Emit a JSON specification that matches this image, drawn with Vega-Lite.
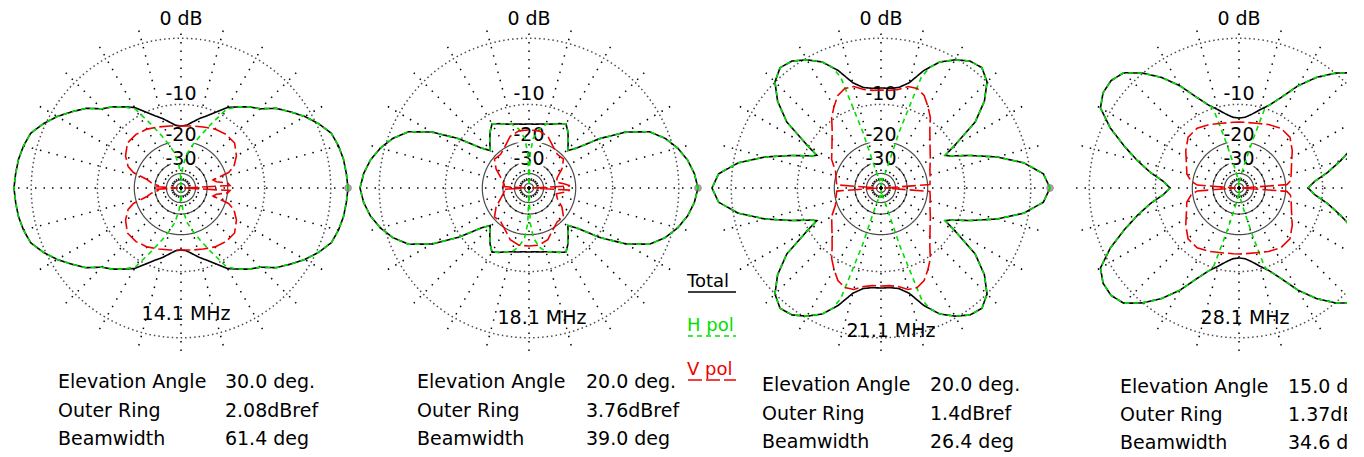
{
"$schema":"https://vega.github.io/schema/vega-lite/v6.json",
"width":1347,"height":457,"padding":0,
"autosize":{"type":"pad"},
"background":"white",
"config":{"view":{"stroke":null},"text":{"font":"DejaVu Sans","fontSize":19,"color":"black"}},
"datasets":{
"spokes":[{"deg":0},{"deg":15},{"deg":30},{"deg":45},{"deg":60},{"deg":75},{"deg":90},{"deg":105},{"deg":120},{"deg":135},{"deg":150},{"deg":165},{"deg":180},{"deg":195},{"deg":210},{"deg":225},{"deg":240},{"deg":255},{"deg":270},{"deg":285},{"deg":300},{"deg":315},{"deg":330},{"deg":345}],
"rings":[{"dB":0,"line":"dotted"},{"dB":-10,"line":"dotted"},{"dB":-20,"line":"solid"},{"dB":-30,"line":"solid"},{"dB":-40,"line":"solid"},{"dB":-50,"line":"solid"},{"dB":-60,"line":"solid"}],
"ringlabels":[{"label":"0 dB","dB":0},{"label":"-10","dB":-10},{"label":"-20","dB":-20},{"label":"-30","dB":-30}],
"s1":[{"freq":"14.1 MHz","lab":["Elevation Angle","Outer Ring","Beamwidth"],"val":["30.0 deg.","2.08dBref","61.4 deg"]}],
"s2":[{"freq":"18.1 MHz","lab":["Elevation Angle","Outer Ring","Beamwidth"],"val":["20.0 deg.","3.76dBref","39.0 deg"]}],
"s3":[{"freq":"21.1 MHz","lab":["Elevation Angle","Outer Ring","Beamwidth"],"val":["20.0 deg.","1.4dBref","26.4 deg"]}],
"s4":[{"freq":"28.1 MHz","lab":["Elevation Angle","Outer Ring","Beamwidth"],"val":["15.0 deg.","1.37dBref","34.6 deg"]}],
"p1":[
{"pol":"Total","az":0,"dB":-0.2},{"pol":"Total","az":5,"dB":-0.31},{"pol":"Total","az":10,"dB":-0.41},{"pol":"Total","az":15,"dB":-0.62},{"pol":"Total","az":20,"dB":-0.94},{"pol":"Total","az":25,"dB":-1.82},{"pol":"Total","az":30,"dB":-2.87},{"pol":"Total","az":35,"dB":-4.11},{"pol":"Total","az":40,"dB":-5.32},{"pol":"Total","az":45,"dB":-7.06},{"pol":"Total","az":50,"dB":-8.01},{"pol":"Total","az":55,"dB":-9.18},{"pol":"Total","az":60,"dB":-10.25},{"pol":"Total","az":65,"dB":-12},{"pol":"Total","az":70,"dB":-13.49},{"pol":"Total","az":75,"dB":-14.64},{"pol":"Total","az":80,"dB":-15.88},{"pol":"Total","az":85,"dB":-16.93},{"pol":"Total","az":90,"dB":-17.21},
{"pol":"Total","az":95,"dB":-16.93},{"pol":"Total","az":100,"dB":-15.88},{"pol":"Total","az":105,"dB":-14.64},{"pol":"Total","az":110,"dB":-13.49},{"pol":"Total","az":115,"dB":-12},{"pol":"Total","az":120,"dB":-10.25},{"pol":"Total","az":125,"dB":-9.18},{"pol":"Total","az":130,"dB":-8.01},{"pol":"Total","az":135,"dB":-7.06},{"pol":"Total","az":140,"dB":-5.32},{"pol":"Total","az":145,"dB":-4.11},{"pol":"Total","az":150,"dB":-2.87},{"pol":"Total","az":155,"dB":-1.82},{"pol":"Total","az":160,"dB":-0.94},{"pol":"Total","az":165,"dB":-0.62},{"pol":"Total","az":170,"dB":-0.41},{"pol":"Total","az":175,"dB":-0.31},{"pol":"Total","az":180,"dB":-0.2},
{"pol":"Total","az":185,"dB":-0.31},{"pol":"Total","az":190,"dB":-0.41},{"pol":"Total","az":195,"dB":-0.62},{"pol":"Total","az":200,"dB":-0.94},{"pol":"Total","az":205,"dB":-1.82},{"pol":"Total","az":210,"dB":-2.87},{"pol":"Total","az":215,"dB":-4.11},{"pol":"Total","az":220,"dB":-5.32},{"pol":"Total","az":225,"dB":-7.06},{"pol":"Total","az":230,"dB":-8.01},{"pol":"Total","az":235,"dB":-9.18},{"pol":"Total","az":240,"dB":-10.25},{"pol":"Total","az":245,"dB":-12},{"pol":"Total","az":250,"dB":-13.49},{"pol":"Total","az":255,"dB":-14.64},{"pol":"Total","az":260,"dB":-15.88},{"pol":"Total","az":265,"dB":-16.93},{"pol":"Total","az":270,"dB":-17.21},
{"pol":"Total","az":275,"dB":-16.93},{"pol":"Total","az":280,"dB":-15.88},{"pol":"Total","az":285,"dB":-14.64},{"pol":"Total","az":290,"dB":-13.49},{"pol":"Total","az":295,"dB":-12},{"pol":"Total","az":300,"dB":-10.25},{"pol":"Total","az":305,"dB":-9.18},{"pol":"Total","az":310,"dB":-8.01},{"pol":"Total","az":315,"dB":-7.06},{"pol":"Total","az":320,"dB":-5.32},{"pol":"Total","az":325,"dB":-4.11},{"pol":"Total","az":330,"dB":-2.87},{"pol":"Total","az":335,"dB":-1.82},{"pol":"Total","az":340,"dB":-0.94},{"pol":"Total","az":345,"dB":-0.62},{"pol":"Total","az":350,"dB":-0.41},{"pol":"Total","az":355,"dB":-0.31},{"pol":"Total","az":360,"dB":-0.2},
{"pol":"H pol","az":0,"dB":-0.2},{"pol":"H pol","az":5,"dB":-0.31},{"pol":"H pol","az":10,"dB":-0.41},{"pol":"H pol","az":15,"dB":-0.62},{"pol":"H pol","az":20,"dB":-0.94},{"pol":"H pol","az":25,"dB":-1.82},{"pol":"H pol","az":30,"dB":-2.87},{"pol":"H pol","az":35,"dB":-4.11},{"pol":"H pol","az":40,"dB":-5.32},{"pol":"H pol","az":45,"dB":-7.06},{"pol":"H pol","az":50,"dB":-8.01},{"pol":"H pol","az":55,"dB":-9.18},{"pol":"H pol","az":60,"dB":-10.63},{"pol":"H pol","az":65,"dB":-15.13},{"pol":"H pol","az":70,"dB":-19.26},{"pol":"H pol","az":75,"dB":-23.09},{"pol":"H pol","az":80,"dB":-27.02},{"pol":"H pol","az":85,"dB":-34.99},{"pol":"H pol","az":88,"dB":-45.39},{"pol":"H pol","az":90,"dB":-76},
{"pol":"H pol","az":92,"dB":-45.39},{"pol":"H pol","az":95,"dB":-34.99},{"pol":"H pol","az":100,"dB":-27.02},{"pol":"H pol","az":105,"dB":-23.09},{"pol":"H pol","az":110,"dB":-19.26},{"pol":"H pol","az":115,"dB":-15.13},{"pol":"H pol","az":120,"dB":-10.63},{"pol":"H pol","az":125,"dB":-9.18},{"pol":"H pol","az":130,"dB":-8.01},{"pol":"H pol","az":135,"dB":-7.06},{"pol":"H pol","az":140,"dB":-5.32},{"pol":"H pol","az":145,"dB":-4.11},{"pol":"H pol","az":150,"dB":-2.87},{"pol":"H pol","az":155,"dB":-1.82},{"pol":"H pol","az":160,"dB":-0.94},{"pol":"H pol","az":165,"dB":-0.62},{"pol":"H pol","az":170,"dB":-0.41},{"pol":"H pol","az":175,"dB":-0.31},{"pol":"H pol","az":180,"dB":-0.2},
{"pol":"H pol","az":185,"dB":-0.31},{"pol":"H pol","az":190,"dB":-0.41},{"pol":"H pol","az":195,"dB":-0.62},{"pol":"H pol","az":200,"dB":-0.94},{"pol":"H pol","az":205,"dB":-1.82},{"pol":"H pol","az":210,"dB":-2.87},{"pol":"H pol","az":215,"dB":-4.11},{"pol":"H pol","az":220,"dB":-5.32},{"pol":"H pol","az":225,"dB":-7.06},{"pol":"H pol","az":230,"dB":-8.01},{"pol":"H pol","az":235,"dB":-9.18},{"pol":"H pol","az":240,"dB":-10.63},{"pol":"H pol","az":245,"dB":-15.13},{"pol":"H pol","az":250,"dB":-19.26},{"pol":"H pol","az":255,"dB":-23.09},{"pol":"H pol","az":260,"dB":-27.02},{"pol":"H pol","az":265,"dB":-34.99},{"pol":"H pol","az":268,"dB":-45.39},{"pol":"H pol","az":270,"dB":-76},
{"pol":"H pol","az":272,"dB":-45.39},{"pol":"H pol","az":275,"dB":-34.99},{"pol":"H pol","az":280,"dB":-27.02},{"pol":"H pol","az":285,"dB":-23.09},{"pol":"H pol","az":290,"dB":-19.26},{"pol":"H pol","az":295,"dB":-15.13},{"pol":"H pol","az":300,"dB":-10.63},{"pol":"H pol","az":305,"dB":-9.18},{"pol":"H pol","az":310,"dB":-8.01},{"pol":"H pol","az":315,"dB":-7.06},{"pol":"H pol","az":320,"dB":-5.32},{"pol":"H pol","az":325,"dB":-4.11},{"pol":"H pol","az":330,"dB":-2.87},{"pol":"H pol","az":335,"dB":-1.82},{"pol":"H pol","az":340,"dB":-0.94},{"pol":"H pol","az":345,"dB":-0.62},{"pol":"H pol","az":350,"dB":-0.41},{"pol":"H pol","az":355,"dB":-0.31},{"pol":"H pol","az":360,"dB":-0.2},
{"pol":"V pol","az":0,"dB":-69},{"pol":"V pol","az":3,"dB":-21.24},{"pol":"V pol","az":6,"dB":-21.96},{"pol":"V pol","az":10,"dB":-26.53},{"pol":"V pol","az":14,"dB":-28.03},{"pol":"V pol","az":18,"dB":-20.9},{"pol":"V pol","az":22,"dB":-18.65},{"pol":"V pol","az":30,"dB":-16.66},{"pol":"V pol","az":40,"dB":-15.13},{"pol":"V pol","az":50,"dB":-15.13},{"pol":"V pol","az":60,"dB":-15.63},{"pol":"V pol","az":70,"dB":-16.4},{"pol":"V pol","az":80,"dB":-16.93},{"pol":"V pol","az":90,"dB":-17.21},
{"pol":"V pol","az":100,"dB":-16.93},{"pol":"V pol","az":110,"dB":-16.4},{"pol":"V pol","az":120,"dB":-15.63},{"pol":"V pol","az":130,"dB":-15.13},{"pol":"V pol","az":140,"dB":-15.13},{"pol":"V pol","az":150,"dB":-16.66},{"pol":"V pol","az":158,"dB":-18.65},{"pol":"V pol","az":162,"dB":-20.9},{"pol":"V pol","az":166,"dB":-27.0},{"pol":"V pol","az":170,"dB":-29.66},{"pol":"V pol","az":174,"dB":-34.22},{"pol":"V pol","az":177,"dB":-33.49},{"pol":"V pol","az":180,"dB":-69},
{"pol":"V pol","az":183,"dB":-33.49},{"pol":"V pol","az":186,"dB":-34.22},{"pol":"V pol","az":190,"dB":-29.66},{"pol":"V pol","az":194,"dB":-27.0},{"pol":"V pol","az":198,"dB":-20.9},{"pol":"V pol","az":202,"dB":-18.65},{"pol":"V pol","az":210,"dB":-16.66},{"pol":"V pol","az":220,"dB":-15.13},{"pol":"V pol","az":230,"dB":-15.13},{"pol":"V pol","az":240,"dB":-15.63},{"pol":"V pol","az":250,"dB":-16.4},{"pol":"V pol","az":260,"dB":-16.93},{"pol":"V pol","az":270,"dB":-17.21},
{"pol":"V pol","az":280,"dB":-16.93},{"pol":"V pol","az":290,"dB":-16.4},{"pol":"V pol","az":300,"dB":-15.63},{"pol":"V pol","az":310,"dB":-15.13},{"pol":"V pol","az":320,"dB":-15.13},{"pol":"V pol","az":330,"dB":-16.66},{"pol":"V pol","az":338,"dB":-18.65},{"pol":"V pol","az":342,"dB":-20.9},{"pol":"V pol","az":346,"dB":-28.03},{"pol":"V pol","az":350,"dB":-26.53},{"pol":"V pol","az":354,"dB":-21.96},{"pol":"V pol","az":357,"dB":-21.24},{"pol":"V pol","az":360,"dB":-69}
],
"p2":[
{"pol":"Total","az":0,"dB":0},{"pol":"Total","az":5,"dB":-0.31},{"pol":"Total","az":10,"dB":-0.83},{"pol":"Total","az":15,"dB":-1.6},{"pol":"Total","az":20,"dB":-2.63},{"pol":"Total","az":25,"dB":-4.11},{"pol":"Total","az":30,"dB":-7.06},{"pol":"Total","az":35,"dB":-11.59},{"pol":"Total","az":40,"dB":-17.21},{"pol":"Total","az":44,"dB":-19.58},{"pol":"Total","az":50,"dB":-17.49},{"pol":"Total","az":55,"dB":-15.63},{"pol":"Total","az":60,"dB":-14.17},{"pol":"Total","az":65,"dB":-14.88},{"pol":"Total","az":70,"dB":-15.63},{"pol":"Total","az":75,"dB":-16.14},{"pol":"Total","az":80,"dB":-16.4},{"pol":"Total","az":85,"dB":-16.66},{"pol":"Total","az":90,"dB":-16.66},
{"pol":"Total","az":95,"dB":-16.66},{"pol":"Total","az":100,"dB":-16.4},{"pol":"Total","az":105,"dB":-16.14},{"pol":"Total","az":110,"dB":-15.63},{"pol":"Total","az":115,"dB":-14.88},{"pol":"Total","az":120,"dB":-14.17},{"pol":"Total","az":125,"dB":-15.63},{"pol":"Total","az":130,"dB":-17.49},{"pol":"Total","az":136,"dB":-19.58},{"pol":"Total","az":140,"dB":-17.21},{"pol":"Total","az":145,"dB":-11.59},{"pol":"Total","az":150,"dB":-7.06},{"pol":"Total","az":155,"dB":-4.11},{"pol":"Total","az":160,"dB":-2.63},{"pol":"Total","az":165,"dB":-1.6},{"pol":"Total","az":170,"dB":-0.83},{"pol":"Total","az":175,"dB":-0.31},{"pol":"Total","az":180,"dB":0},
{"pol":"Total","az":185,"dB":-0.31},{"pol":"Total","az":190,"dB":-0.83},{"pol":"Total","az":195,"dB":-1.6},{"pol":"Total","az":200,"dB":-2.63},{"pol":"Total","az":205,"dB":-4.11},{"pol":"Total","az":210,"dB":-7.06},{"pol":"Total","az":215,"dB":-11.59},{"pol":"Total","az":220,"dB":-17.21},{"pol":"Total","az":224,"dB":-19.58},{"pol":"Total","az":230,"dB":-17.49},{"pol":"Total","az":235,"dB":-15.63},{"pol":"Total","az":240,"dB":-14.17},{"pol":"Total","az":245,"dB":-14.88},{"pol":"Total","az":250,"dB":-15.63},{"pol":"Total","az":255,"dB":-16.14},{"pol":"Total","az":260,"dB":-16.4},{"pol":"Total","az":265,"dB":-16.66},{"pol":"Total","az":270,"dB":-16.66},
{"pol":"Total","az":275,"dB":-16.66},{"pol":"Total","az":280,"dB":-16.4},{"pol":"Total","az":285,"dB":-16.14},{"pol":"Total","az":290,"dB":-15.63},{"pol":"Total","az":295,"dB":-14.88},{"pol":"Total","az":300,"dB":-14.17},{"pol":"Total","az":305,"dB":-15.63},{"pol":"Total","az":310,"dB":-17.49},{"pol":"Total","az":316,"dB":-19.58},{"pol":"Total","az":320,"dB":-17.21},{"pol":"Total","az":325,"dB":-11.59},{"pol":"Total","az":330,"dB":-7.06},{"pol":"Total","az":335,"dB":-4.11},{"pol":"Total","az":340,"dB":-2.63},{"pol":"Total","az":345,"dB":-1.6},{"pol":"Total","az":350,"dB":-0.83},{"pol":"Total","az":355,"dB":-0.31},{"pol":"Total","az":360,"dB":0},
{"pol":"H pol","az":0,"dB":0},{"pol":"H pol","az":5,"dB":-0.31},{"pol":"H pol","az":10,"dB":-0.83},{"pol":"H pol","az":15,"dB":-1.6},{"pol":"H pol","az":20,"dB":-2.63},{"pol":"H pol","az":25,"dB":-4.11},{"pol":"H pol","az":30,"dB":-7.06},{"pol":"H pol","az":35,"dB":-11.59},{"pol":"H pol","az":40,"dB":-17.21},{"pol":"H pol","az":44,"dB":-19.58},{"pol":"H pol","az":50,"dB":-17.49},{"pol":"H pol","az":55,"dB":-15.63},{"pol":"H pol","az":60,"dB":-14.17},{"pol":"H pol","az":65,"dB":-14.88},{"pol":"H pol","az":70,"dB":-15.63},{"pol":"H pol","az":75,"dB":-16.14},{"pol":"H pol","az":80,"dB":-17.77},{"pol":"H pol","az":85,"dB":-20.9},{"pol":"H pol","az":88,"dB":-27.0},{"pol":"H pol","az":90,"dB":-76},
{"pol":"H pol","az":92,"dB":-27.0},{"pol":"H pol","az":95,"dB":-20.9},{"pol":"H pol","az":100,"dB":-17.77},{"pol":"H pol","az":105,"dB":-16.14},{"pol":"H pol","az":110,"dB":-15.63},{"pol":"H pol","az":115,"dB":-14.88},{"pol":"H pol","az":120,"dB":-14.17},{"pol":"H pol","az":125,"dB":-15.63},{"pol":"H pol","az":130,"dB":-17.49},{"pol":"H pol","az":136,"dB":-19.58},{"pol":"H pol","az":140,"dB":-17.21},{"pol":"H pol","az":145,"dB":-11.59},{"pol":"H pol","az":150,"dB":-7.06},{"pol":"H pol","az":155,"dB":-4.11},{"pol":"H pol","az":160,"dB":-2.63},{"pol":"H pol","az":165,"dB":-1.6},{"pol":"H pol","az":170,"dB":-0.83},{"pol":"H pol","az":175,"dB":-0.31},{"pol":"H pol","az":180,"dB":0},
{"pol":"H pol","az":185,"dB":-0.31},{"pol":"H pol","az":190,"dB":-0.83},{"pol":"H pol","az":195,"dB":-1.6},{"pol":"H pol","az":200,"dB":-2.63},{"pol":"H pol","az":205,"dB":-4.11},{"pol":"H pol","az":210,"dB":-7.06},{"pol":"H pol","az":215,"dB":-11.59},{"pol":"H pol","az":220,"dB":-17.21},{"pol":"H pol","az":224,"dB":-19.58},{"pol":"H pol","az":230,"dB":-17.49},{"pol":"H pol","az":235,"dB":-15.63},{"pol":"H pol","az":240,"dB":-14.17},{"pol":"H pol","az":245,"dB":-14.88},{"pol":"H pol","az":250,"dB":-15.63},{"pol":"H pol","az":255,"dB":-16.14},{"pol":"H pol","az":260,"dB":-17.77},{"pol":"H pol","az":265,"dB":-20.9},{"pol":"H pol","az":268,"dB":-27.0},{"pol":"H pol","az":270,"dB":-76},
{"pol":"H pol","az":272,"dB":-27.0},{"pol":"H pol","az":275,"dB":-20.9},{"pol":"H pol","az":280,"dB":-17.77},{"pol":"H pol","az":285,"dB":-16.14},{"pol":"H pol","az":290,"dB":-15.63},{"pol":"H pol","az":295,"dB":-14.88},{"pol":"H pol","az":300,"dB":-14.17},{"pol":"H pol","az":305,"dB":-15.63},{"pol":"H pol","az":310,"dB":-17.49},{"pol":"H pol","az":316,"dB":-19.58},{"pol":"H pol","az":320,"dB":-17.21},{"pol":"H pol","az":325,"dB":-11.59},{"pol":"H pol","az":330,"dB":-7.06},{"pol":"H pol","az":335,"dB":-4.11},{"pol":"H pol","az":340,"dB":-2.63},{"pol":"H pol","az":345,"dB":-1.6},{"pol":"H pol","az":350,"dB":-0.83},{"pol":"H pol","az":355,"dB":-0.31},{"pol":"H pol","az":360,"dB":0},
{"pol":"V pol","az":0,"dB":-69},{"pol":"V pol","az":3,"dB":-24.3},{"pol":"V pol","az":7,"dB":-27.0},{"pol":"V pol","az":12,"dB":-30.85},{"pol":"V pol","az":20,"dB":-29.66},{"pol":"V pol","az":30,"dB":-25.6},{"pol":"V pol","az":40,"dB":-22.7},{"pol":"V pol","az":50,"dB":-23.09},{"pol":"V pol","az":60,"dB":-21.6},{"pol":"V pol","az":70,"dB":-19.26},{"pol":"V pol","az":80,"dB":-18.35},{"pol":"V pol","az":90,"dB":-18.35},
{"pol":"V pol","az":100,"dB":-18.35},{"pol":"V pol","az":110,"dB":-19.26},{"pol":"V pol","az":120,"dB":-21.6},{"pol":"V pol","az":130,"dB":-23.09},{"pol":"V pol","az":140,"dB":-22.7},{"pol":"V pol","az":150,"dB":-25.6},{"pol":"V pol","az":160,"dB":-29.66},{"pol":"V pol","az":168,"dB":-32.0},{"pol":"V pol","az":173,"dB":-33.0},{"pol":"V pol","az":177,"dB":-32.12},{"pol":"V pol","az":180,"dB":-69},
{"pol":"V pol","az":183,"dB":-32.12},{"pol":"V pol","az":187,"dB":-33.0},{"pol":"V pol","az":192,"dB":-32.0},{"pol":"V pol","az":200,"dB":-29.66},{"pol":"V pol","az":210,"dB":-25.6},{"pol":"V pol","az":220,"dB":-22.7},{"pol":"V pol","az":230,"dB":-23.09},{"pol":"V pol","az":240,"dB":-21.6},{"pol":"V pol","az":250,"dB":-19.26},{"pol":"V pol","az":260,"dB":-18.35},{"pol":"V pol","az":270,"dB":-18.35},
{"pol":"V pol","az":280,"dB":-18.35},{"pol":"V pol","az":290,"dB":-19.26},{"pol":"V pol","az":300,"dB":-21.6},{"pol":"V pol","az":310,"dB":-23.09},{"pol":"V pol","az":320,"dB":-22.7},{"pol":"V pol","az":330,"dB":-25.6},{"pol":"V pol","az":340,"dB":-29.66},{"pol":"V pol","az":348,"dB":-30.85},{"pol":"V pol","az":353,"dB":-27.0},{"pol":"V pol","az":357,"dB":-24.3},{"pol":"V pol","az":360,"dB":-69}
],
"p3":[
{"pol":"Total","az":0,"dB":0},{"pol":"Total","az":5,"dB":-0.62},{"pol":"Total","az":10,"dB":-2.63},{"pol":"Total","az":15,"dB":-5.88},{"pol":"Total","az":20,"dB":-9.88},{"pol":"Total","az":25,"dB":-13.72},{"pol":"Total","az":27,"dB":-14.64},{"pol":"Total","az":30,"dB":-11.79},{"pol":"Total","az":35,"dB":-6.61},{"pol":"Total","az":40,"dB":-3.86},{"pol":"Total","az":45,"dB":-2.05},{"pol":"Total","az":50,"dB":-1.26},{"pol":"Total","az":55,"dB":-1.48},{"pol":"Total","az":60,"dB":-2.28},{"pol":"Total","az":65,"dB":-3.35},{"pol":"Total","az":70,"dB":-5.18},{"pol":"Total","az":75,"dB":-7.53},{"pol":"Total","az":80,"dB":-8.66},{"pol":"Total","az":85,"dB":-9.0},{"pol":"Total","az":90,"dB":-9.0},
{"pol":"Total","az":95,"dB":-9.0},{"pol":"Total","az":100,"dB":-8.66},{"pol":"Total","az":105,"dB":-7.53},{"pol":"Total","az":110,"dB":-5.18},{"pol":"Total","az":115,"dB":-3.35},{"pol":"Total","az":120,"dB":-2.28},{"pol":"Total","az":125,"dB":-1.48},{"pol":"Total","az":130,"dB":-1.26},{"pol":"Total","az":135,"dB":-2.05},{"pol":"Total","az":140,"dB":-3.86},{"pol":"Total","az":145,"dB":-6.61},{"pol":"Total","az":150,"dB":-11.79},{"pol":"Total","az":153,"dB":-14.64},{"pol":"Total","az":155,"dB":-13.72},{"pol":"Total","az":160,"dB":-9.88},{"pol":"Total","az":165,"dB":-5.88},{"pol":"Total","az":170,"dB":-2.63},{"pol":"Total","az":175,"dB":-0.62},{"pol":"Total","az":180,"dB":0},
{"pol":"Total","az":185,"dB":-0.62},{"pol":"Total","az":190,"dB":-2.63},{"pol":"Total","az":195,"dB":-5.88},{"pol":"Total","az":200,"dB":-9.88},{"pol":"Total","az":205,"dB":-13.72},{"pol":"Total","az":207,"dB":-14.64},{"pol":"Total","az":210,"dB":-11.79},{"pol":"Total","az":215,"dB":-6.61},{"pol":"Total","az":220,"dB":-3.86},{"pol":"Total","az":225,"dB":-2.05},{"pol":"Total","az":230,"dB":-1.26},{"pol":"Total","az":235,"dB":-1.48},{"pol":"Total","az":240,"dB":-2.28},{"pol":"Total","az":245,"dB":-3.35},{"pol":"Total","az":250,"dB":-5.18},{"pol":"Total","az":255,"dB":-7.53},{"pol":"Total","az":260,"dB":-8.66},{"pol":"Total","az":265,"dB":-9.0},{"pol":"Total","az":270,"dB":-9.0},
{"pol":"Total","az":275,"dB":-9.0},{"pol":"Total","az":280,"dB":-8.66},{"pol":"Total","az":285,"dB":-7.53},{"pol":"Total","az":290,"dB":-5.18},{"pol":"Total","az":295,"dB":-3.35},{"pol":"Total","az":300,"dB":-2.28},{"pol":"Total","az":305,"dB":-1.48},{"pol":"Total","az":310,"dB":-1.26},{"pol":"Total","az":315,"dB":-2.05},{"pol":"Total","az":320,"dB":-3.86},{"pol":"Total","az":325,"dB":-6.61},{"pol":"Total","az":330,"dB":-11.79},{"pol":"Total","az":333,"dB":-14.64},{"pol":"Total","az":335,"dB":-13.72},{"pol":"Total","az":340,"dB":-9.88},{"pol":"Total","az":345,"dB":-5.88},{"pol":"Total","az":350,"dB":-2.63},{"pol":"Total","az":355,"dB":-0.62},{"pol":"Total","az":360,"dB":0},
{"pol":"H pol","az":0,"dB":0},{"pol":"H pol","az":5,"dB":-0.62},{"pol":"H pol","az":10,"dB":-2.63},{"pol":"H pol","az":15,"dB":-5.88},{"pol":"H pol","az":20,"dB":-9.88},{"pol":"H pol","az":25,"dB":-13.72},{"pol":"H pol","az":27,"dB":-14.64},{"pol":"H pol","az":30,"dB":-11.79},{"pol":"H pol","az":35,"dB":-6.61},{"pol":"H pol","az":40,"dB":-3.86},{"pol":"H pol","az":45,"dB":-2.05},{"pol":"H pol","az":50,"dB":-1.26},{"pol":"H pol","az":55,"dB":-1.48},{"pol":"H pol","az":60,"dB":-2.28},{"pol":"H pol","az":65,"dB":-3.35},{"pol":"H pol","az":68,"dB":-4.5},{"pol":"H pol","az":70,"dB":-6.17},{"pol":"H pol","az":72,"dB":-17.77},{"pol":"H pol","az":74,"dB":-41.56},{"pol":"H pol","az":80,"dB":-52.35},{"pol":"H pol","az":85,"dB":-48.5},{"pol":"H pol","az":90,"dB":-76},
{"pol":"H pol","az":95,"dB":-48.5},{"pol":"H pol","az":100,"dB":-52.35},{"pol":"H pol","az":106,"dB":-41.56},{"pol":"H pol","az":108,"dB":-17.77},{"pol":"H pol","az":110,"dB":-6.17},{"pol":"H pol","az":112,"dB":-4.5},{"pol":"H pol","az":115,"dB":-3.35},{"pol":"H pol","az":120,"dB":-2.28},{"pol":"H pol","az":125,"dB":-1.48},{"pol":"H pol","az":130,"dB":-1.26},{"pol":"H pol","az":135,"dB":-2.05},{"pol":"H pol","az":140,"dB":-3.86},{"pol":"H pol","az":145,"dB":-6.61},{"pol":"H pol","az":150,"dB":-11.79},{"pol":"H pol","az":153,"dB":-14.64},{"pol":"H pol","az":155,"dB":-13.72},{"pol":"H pol","az":160,"dB":-9.88},{"pol":"H pol","az":165,"dB":-5.88},{"pol":"H pol","az":170,"dB":-2.63},{"pol":"H pol","az":175,"dB":-0.62},{"pol":"H pol","az":180,"dB":0},
{"pol":"H pol","az":185,"dB":-0.62},{"pol":"H pol","az":190,"dB":-2.63},{"pol":"H pol","az":195,"dB":-5.88},{"pol":"H pol","az":200,"dB":-9.88},{"pol":"H pol","az":205,"dB":-13.72},{"pol":"H pol","az":207,"dB":-14.64},{"pol":"H pol","az":210,"dB":-11.79},{"pol":"H pol","az":215,"dB":-6.61},{"pol":"H pol","az":220,"dB":-3.86},{"pol":"H pol","az":225,"dB":-2.05},{"pol":"H pol","az":230,"dB":-1.26},{"pol":"H pol","az":235,"dB":-1.48},{"pol":"H pol","az":240,"dB":-2.28},{"pol":"H pol","az":245,"dB":-3.35},{"pol":"H pol","az":248,"dB":-4.5},{"pol":"H pol","az":250,"dB":-6.17},{"pol":"H pol","az":252,"dB":-17.77},{"pol":"H pol","az":254,"dB":-41.56},{"pol":"H pol","az":260,"dB":-52.35},{"pol":"H pol","az":265,"dB":-48.5},{"pol":"H pol","az":270,"dB":-76},
{"pol":"H pol","az":275,"dB":-48.5},{"pol":"H pol","az":280,"dB":-52.35},{"pol":"H pol","az":286,"dB":-41.56},{"pol":"H pol","az":288,"dB":-17.77},{"pol":"H pol","az":290,"dB":-6.17},{"pol":"H pol","az":292,"dB":-4.5},{"pol":"H pol","az":295,"dB":-3.35},{"pol":"H pol","az":300,"dB":-2.28},{"pol":"H pol","az":305,"dB":-1.48},{"pol":"H pol","az":310,"dB":-1.26},{"pol":"H pol","az":315,"dB":-2.05},{"pol":"H pol","az":320,"dB":-3.86},{"pol":"H pol","az":325,"dB":-6.61},{"pol":"H pol","az":330,"dB":-11.79},{"pol":"H pol","az":333,"dB":-14.64},{"pol":"H pol","az":335,"dB":-13.72},{"pol":"H pol","az":340,"dB":-9.88},{"pol":"H pol","az":345,"dB":-5.88},{"pol":"H pol","az":350,"dB":-2.63},{"pol":"H pol","az":355,"dB":-0.62},{"pol":"H pol","az":360,"dB":0},
{"pol":"V pol","az":0,"dB":-69},{"pol":"V pol","az":4,"dB":-21.24},{"pol":"V pol","az":10,"dB":-20.9},{"pol":"V pol","az":20,"dB":-20.22},{"pol":"V pol","az":30,"dB":-18.65},{"pol":"V pol","az":40,"dB":-16.66},{"pol":"V pol","az":50,"dB":-13.72},{"pol":"V pol","az":55,"dB":-11.59},{"pol":"V pol","az":60,"dB":-10.07},{"pol":"V pol","az":65,"dB":-8.66},{"pol":"V pol","az":70,"dB":-8.01},{"pol":"V pol","az":75,"dB":-8.17},{"pol":"V pol","az":80,"dB":-9.0},{"pol":"V pol","az":85,"dB":-9.35},{"pol":"V pol","az":90,"dB":-9.35},
{"pol":"V pol","az":95,"dB":-9.35},{"pol":"V pol","az":100,"dB":-9.0},{"pol":"V pol","az":105,"dB":-8.17},{"pol":"V pol","az":110,"dB":-8.01},{"pol":"V pol","az":115,"dB":-8.66},{"pol":"V pol","az":120,"dB":-10.07},{"pol":"V pol","az":125,"dB":-11.59},{"pol":"V pol","az":130,"dB":-13.72},{"pol":"V pol","az":140,"dB":-16.66},{"pol":"V pol","az":150,"dB":-18.65},{"pol":"V pol","az":160,"dB":-21.5},{"pol":"V pol","az":170,"dB":-22.5},{"pol":"V pol","az":176,"dB":-23.0},{"pol":"V pol","az":180,"dB":-69},
{"pol":"V pol","az":184,"dB":-23.0},{"pol":"V pol","az":190,"dB":-22.5},{"pol":"V pol","az":200,"dB":-21.5},{"pol":"V pol","az":210,"dB":-18.65},{"pol":"V pol","az":220,"dB":-16.66},{"pol":"V pol","az":230,"dB":-13.72},{"pol":"V pol","az":235,"dB":-11.59},{"pol":"V pol","az":240,"dB":-10.07},{"pol":"V pol","az":245,"dB":-8.66},{"pol":"V pol","az":250,"dB":-8.01},{"pol":"V pol","az":255,"dB":-8.17},{"pol":"V pol","az":260,"dB":-9.0},{"pol":"V pol","az":265,"dB":-9.35},{"pol":"V pol","az":270,"dB":-9.35},
{"pol":"V pol","az":275,"dB":-9.35},{"pol":"V pol","az":280,"dB":-9.0},{"pol":"V pol","az":285,"dB":-8.17},{"pol":"V pol","az":290,"dB":-8.01},{"pol":"V pol","az":295,"dB":-8.66},{"pol":"V pol","az":300,"dB":-10.07},{"pol":"V pol","az":305,"dB":-11.59},{"pol":"V pol","az":310,"dB":-13.72},{"pol":"V pol","az":320,"dB":-16.66},{"pol":"V pol","az":330,"dB":-18.65},{"pol":"V pol","az":340,"dB":-20.22},{"pol":"V pol","az":350,"dB":-20.9},{"pol":"V pol","az":356,"dB":-21.24},{"pol":"V pol","az":360,"dB":-69}
],
"p4":[
{"pol":"Total","az":0,"dB":-15.37},{"pol":"Total","az":5,"dB":-13.72},{"pol":"Total","az":10,"dB":-10.81},{"pol":"Total","az":15,"dB":-8.17},{"pol":"Total","az":20,"dB":-5.59},{"pol":"Total","az":25,"dB":-2.99},{"pol":"Total","az":30,"dB":-0.94},{"pol":"Total","az":35,"dB":-0.31},{"pol":"Total","az":40,"dB":-0.2},{"pol":"Total","az":45,"dB":-0.62},{"pol":"Total","az":50,"dB":-2.05},{"pol":"Total","az":55,"dB":-3.86},{"pol":"Total","az":60,"dB":-6.17},{"pol":"Total","az":65,"dB":-9.0},{"pol":"Total","az":70,"dB":-11.2},{"pol":"Total","az":75,"dB":-12.62},{"pol":"Total","az":80,"dB":-13.94},{"pol":"Total","az":85,"dB":-14.88},{"pol":"Total","az":90,"dB":-15.13},
{"pol":"Total","az":95,"dB":-14.88},{"pol":"Total","az":100,"dB":-13.94},{"pol":"Total","az":105,"dB":-12.62},{"pol":"Total","az":110,"dB":-11.2},{"pol":"Total","az":115,"dB":-9.0},{"pol":"Total","az":120,"dB":-6.17},{"pol":"Total","az":125,"dB":-3.86},{"pol":"Total","az":130,"dB":-2.05},{"pol":"Total","az":135,"dB":-0.62},{"pol":"Total","az":140,"dB":-0.2},{"pol":"Total","az":145,"dB":-0.31},{"pol":"Total","az":150,"dB":-0.94},{"pol":"Total","az":155,"dB":-2.99},{"pol":"Total","az":160,"dB":-5.59},{"pol":"Total","az":165,"dB":-8.17},{"pol":"Total","az":170,"dB":-10.81},{"pol":"Total","az":175,"dB":-13.72},{"pol":"Total","az":180,"dB":-15.37},
{"pol":"Total","az":185,"dB":-13.72},{"pol":"Total","az":190,"dB":-10.81},{"pol":"Total","az":195,"dB":-8.17},{"pol":"Total","az":200,"dB":-5.59},{"pol":"Total","az":205,"dB":-2.99},{"pol":"Total","az":210,"dB":-0.94},{"pol":"Total","az":215,"dB":-0.31},{"pol":"Total","az":220,"dB":-0.2},{"pol":"Total","az":225,"dB":-0.62},{"pol":"Total","az":230,"dB":-2.05},{"pol":"Total","az":235,"dB":-3.86},{"pol":"Total","az":240,"dB":-6.17},{"pol":"Total","az":245,"dB":-9.0},{"pol":"Total","az":250,"dB":-11.2},{"pol":"Total","az":255,"dB":-12.62},{"pol":"Total","az":260,"dB":-13.94},{"pol":"Total","az":265,"dB":-14.88},{"pol":"Total","az":270,"dB":-15.13},
{"pol":"Total","az":275,"dB":-14.88},{"pol":"Total","az":280,"dB":-13.94},{"pol":"Total","az":285,"dB":-12.62},{"pol":"Total","az":290,"dB":-11.2},{"pol":"Total","az":295,"dB":-9.0},{"pol":"Total","az":300,"dB":-6.17},{"pol":"Total","az":305,"dB":-3.86},{"pol":"Total","az":310,"dB":-2.05},{"pol":"Total","az":315,"dB":-0.62},{"pol":"Total","az":320,"dB":-0.2},{"pol":"Total","az":325,"dB":-0.31},{"pol":"Total","az":330,"dB":-0.94},{"pol":"Total","az":335,"dB":-2.99},{"pol":"Total","az":340,"dB":-5.59},{"pol":"Total","az":345,"dB":-8.17},{"pol":"Total","az":350,"dB":-10.81},{"pol":"Total","az":355,"dB":-13.72},{"pol":"Total","az":360,"dB":-15.37},
{"pol":"H pol","az":0,"dB":-15.37},{"pol":"H pol","az":5,"dB":-13.72},{"pol":"H pol","az":10,"dB":-10.81},{"pol":"H pol","az":15,"dB":-8.17},{"pol":"H pol","az":20,"dB":-5.59},{"pol":"H pol","az":25,"dB":-2.99},{"pol":"H pol","az":30,"dB":-0.94},{"pol":"H pol","az":35,"dB":-0.31},{"pol":"H pol","az":40,"dB":-0.2},{"pol":"H pol","az":45,"dB":-0.62},{"pol":"H pol","az":50,"dB":-2.05},{"pol":"H pol","az":55,"dB":-3.86},{"pol":"H pol","az":60,"dB":-6.17},{"pol":"H pol","az":65,"dB":-9.0},{"pol":"H pol","az":70,"dB":-11.2},{"pol":"H pol","az":72,"dB":-12.0},{"pol":"H pol","az":74,"dB":-20.9},{"pol":"H pol","az":77,"dB":-32.79},{"pol":"H pol","az":80,"dB":-41.56},{"pol":"H pol","az":85,"dB":-52.35},{"pol":"H pol","az":90,"dB":-76},
{"pol":"H pol","az":95,"dB":-52.35},{"pol":"H pol","az":100,"dB":-41.56},{"pol":"H pol","az":103,"dB":-32.79},{"pol":"H pol","az":106,"dB":-20.9},{"pol":"H pol","az":108,"dB":-12.0},{"pol":"H pol","az":110,"dB":-11.2},{"pol":"H pol","az":115,"dB":-9.0},{"pol":"H pol","az":120,"dB":-6.17},{"pol":"H pol","az":125,"dB":-3.86},{"pol":"H pol","az":130,"dB":-2.05},{"pol":"H pol","az":135,"dB":-0.62},{"pol":"H pol","az":140,"dB":-0.2},{"pol":"H pol","az":145,"dB":-0.31},{"pol":"H pol","az":150,"dB":-0.94},{"pol":"H pol","az":155,"dB":-2.99},{"pol":"H pol","az":160,"dB":-5.59},{"pol":"H pol","az":165,"dB":-8.17},{"pol":"H pol","az":170,"dB":-10.81},{"pol":"H pol","az":175,"dB":-13.72},{"pol":"H pol","az":180,"dB":-15.37},
{"pol":"H pol","az":185,"dB":-13.72},{"pol":"H pol","az":190,"dB":-10.81},{"pol":"H pol","az":195,"dB":-8.17},{"pol":"H pol","az":200,"dB":-5.59},{"pol":"H pol","az":205,"dB":-2.99},{"pol":"H pol","az":210,"dB":-0.94},{"pol":"H pol","az":215,"dB":-0.31},{"pol":"H pol","az":220,"dB":-0.2},{"pol":"H pol","az":225,"dB":-0.62},{"pol":"H pol","az":230,"dB":-2.05},{"pol":"H pol","az":235,"dB":-3.86},{"pol":"H pol","az":240,"dB":-6.17},{"pol":"H pol","az":245,"dB":-9.0},{"pol":"H pol","az":250,"dB":-11.2},{"pol":"H pol","az":252,"dB":-12.0},{"pol":"H pol","az":254,"dB":-20.9},{"pol":"H pol","az":257,"dB":-32.79},{"pol":"H pol","az":260,"dB":-41.56},{"pol":"H pol","az":265,"dB":-52.35},{"pol":"H pol","az":270,"dB":-76},
{"pol":"H pol","az":275,"dB":-52.35},{"pol":"H pol","az":280,"dB":-41.56},{"pol":"H pol","az":283,"dB":-32.79},{"pol":"H pol","az":286,"dB":-20.9},{"pol":"H pol","az":288,"dB":-12.0},{"pol":"H pol","az":290,"dB":-11.2},{"pol":"H pol","az":295,"dB":-9.0},{"pol":"H pol","az":300,"dB":-6.17},{"pol":"H pol","az":305,"dB":-3.86},{"pol":"H pol","az":310,"dB":-2.05},{"pol":"H pol","az":315,"dB":-0.62},{"pol":"H pol","az":320,"dB":-0.2},{"pol":"H pol","az":325,"dB":-0.31},{"pol":"H pol","az":330,"dB":-0.94},{"pol":"H pol","az":335,"dB":-2.99},{"pol":"H pol","az":340,"dB":-5.59},{"pol":"H pol","az":345,"dB":-8.17},{"pol":"H pol","az":350,"dB":-10.81},{"pol":"H pol","az":355,"dB":-13.72},{"pol":"H pol","az":360,"dB":-15.37},
{"pol":"V pol","az":0,"dB":-69},{"pol":"V pol","az":4,"dB":-21.6},{"pol":"V pol","az":8,"dB":-20.22},{"pol":"V pol","az":15,"dB":-19.58},{"pol":"V pol","az":25,"dB":-18.35},{"pol":"V pol","az":35,"dB":-16.4},{"pol":"V pol","az":45,"dB":-14.64},{"pol":"V pol","az":55,"dB":-14.41},{"pol":"V pol","az":65,"dB":-15.13},{"pol":"V pol","az":75,"dB":-15.88},{"pol":"V pol","az":85,"dB":-16.14},{"pol":"V pol","az":90,"dB":-16.14},
{"pol":"V pol","az":95,"dB":-16.14},{"pol":"V pol","az":105,"dB":-15.88},{"pol":"V pol","az":115,"dB":-15.13},{"pol":"V pol","az":125,"dB":-14.41},{"pol":"V pol","az":135,"dB":-14.64},{"pol":"V pol","az":145,"dB":-16.4},{"pol":"V pol","az":155,"dB":-18.35},{"pol":"V pol","az":165,"dB":-19.58},{"pol":"V pol","az":172,"dB":-21.5},{"pol":"V pol","az":176,"dB":-24.0},{"pol":"V pol","az":180,"dB":-69},
{"pol":"V pol","az":184,"dB":-24.0},{"pol":"V pol","az":188,"dB":-21.5},{"pol":"V pol","az":195,"dB":-19.58},{"pol":"V pol","az":205,"dB":-18.35},{"pol":"V pol","az":215,"dB":-16.4},{"pol":"V pol","az":225,"dB":-14.64},{"pol":"V pol","az":235,"dB":-14.41},{"pol":"V pol","az":245,"dB":-15.13},{"pol":"V pol","az":255,"dB":-15.88},{"pol":"V pol","az":265,"dB":-16.14},{"pol":"V pol","az":270,"dB":-16.14},
{"pol":"V pol","az":275,"dB":-16.14},{"pol":"V pol","az":285,"dB":-15.88},{"pol":"V pol","az":295,"dB":-15.13},{"pol":"V pol","az":305,"dB":-14.41},{"pol":"V pol","az":315,"dB":-14.64},{"pol":"V pol","az":325,"dB":-16.4},{"pol":"V pol","az":335,"dB":-18.35},{"pol":"V pol","az":345,"dB":-19.58},{"pol":"V pol","az":352,"dB":-20.22},{"pol":"V pol","az":356,"dB":-21.6},{"pol":"V pol","az":360,"dB":-69}
]
},
"layer":[
{"layer":[
{"data":{"name":"spokes"},"transform":[{"calculate":"cos(datum.deg*PI/180)","as":"x"},{"calculate":"sin(datum.deg*PI/180)","as":"y"},{"calculate":"0","as":"x0"},{"calculate":"0","as":"y0"}],"mark":{"type":"rule","color":"black","strokeWidth":1.5,"strokeDash":[1.5,7],"clip":true},"encoding":{"x":{"field":"x0","type":"quantitative","scale":{"domain":[-1.071,6.8994],"nice":false,"zero":false},"axis":null},"y":{"field":"y0","type":"quantitative","scale":{"domain":[-1.5917,1.1124],"nice":false,"zero":false},"axis":null},"x2":{"field":"x"},"y2":{"field":"y"}}},
{"data":{"name":"rings"},"transform":[{"calculate":"pow(0.89,-datum.dB)","as":"s"},{"calculate":"0","as":"x"},{"calculate":"0","as":"y"}],"mark":{"type":"point","shape":"circle","filled":false,"stroke":"black","clip":true},"encoding":{"x":{"field":"x","type":"quantitative","scale":{"domain":[-1.071,6.8994],"nice":false,"zero":false},"axis":null},"y":{"field":"y","type":"quantitative","scale":{"domain":[-1.5917,1.1124],"nice":false,"zero":false},"axis":null},"size":{"field":"s","type":"quantitative","scale":{"type":"linear","domain":[0,1],"range":[0,89727],"zero":true},"legend":null},"strokeDash":{"condition":{"test":"datum.line == 'dotted'","value":[1.5,3]},"value":[1,0]},"strokeWidth":{"condition":{"test":"datum.line == 'dotted'","value":1.5},"value":1.2}}},
{"data":{"name":"ringlabels"},"transform":[{"calculate":"pow(0.89,-datum.dB/2)","as":"y"}],"mark":{"type":"text","color":"white","stroke":"white","strokeWidth":6,"baseline":"middle","clip":true},"encoding":{"x":{"datum":0,"type":"quantitative","scale":{"domain":[-1.071,6.8994],"nice":false,"zero":false},"axis":null},"y":{"field":"y","type":"quantitative","scale":{"domain":[-1.5917,1.1124],"nice":false,"zero":false},"axis":null},"text":{"field":"label","type":"nominal"}}},
{"data":{"name":"ringlabels"},"transform":[{"calculate":"pow(0.89,-datum.dB/2)","as":"y"}],"mark":{"type":"text","color":"black","baseline":"middle","clip":true},"encoding":{"x":{"datum":0,"type":"quantitative","scale":{"domain":[-1.071,6.8994],"nice":false,"zero":false},"axis":null},"y":{"field":"y","type":"quantitative","scale":{"domain":[-1.5917,1.1124],"nice":false,"zero":false},"axis":null},"text":{"field":"label","type":"nominal"}}},
{"data":{"name":"s1"},"mark":{"type":"text","align":"center","baseline":"middle","clip":true},"encoding":{"x":{"datum":0.03,"type":"quantitative","scale":{"domain":[-1.071,6.8994],"nice":false,"zero":false},"axis":null},"y":{"datum":-0.746,"type":"quantitative","scale":{"domain":[-1.5917,1.1124],"nice":false,"zero":false},"axis":null},"text":{"field":"freq","type":"nominal"}}},
{"data":{"name":"s1"},"mark":{"type":"text","align":"left","baseline":"middle","lineHeight":28.5,"clip":true},"encoding":{"x":{"datum":-0.728,"type":"quantitative","scale":{"domain":[-1.071,6.8994],"nice":false,"zero":false},"axis":null},"y":{"datum":-1.148,"type":"quantitative","scale":{"domain":[-1.5917,1.1124],"nice":false,"zero":false},"axis":null},"text":{"field":"lab","type":"nominal"}}},
{"data":{"name":"s1"},"mark":{"type":"text","align":"left","baseline":"middle","lineHeight":28.5,"clip":true},"encoding":{"x":{"datum":0.26,"type":"quantitative","scale":{"domain":[-1.071,6.8994],"nice":false,"zero":false},"axis":null},"y":{"datum":-1.148,"type":"quantitative","scale":{"domain":[-1.5917,1.1124],"nice":false,"zero":false},"axis":null},"text":{"field":"val","type":"nominal"}}},
{"data":{"name":"p1"},"transform":[{"calculate":"pow(0.89,-datum.dB/2)","as":"f"},{"calculate":"datum.f*cos(datum.az*PI/180)","as":"x"},{"calculate":"datum.f*sin(datum.az*PI/180)","as":"y"}],"mark":{"type":"line","strokeWidth":1.6,"clip":true},"encoding":{"x":{"field":"x","type":"quantitative","scale":{"domain":[-1.071,6.8994],"nice":false,"zero":false},"axis":null},"y":{"field":"y","type":"quantitative","scale":{"domain":[-1.5917,1.1124],"nice":false,"zero":false},"axis":null},"order":{"field":"az","type":"quantitative"},
 "color":{"field":"pol","type":"nominal","title":null,"scale":{"domain":["Total","H pol","V pol"],"range":["#000000","#00e000","#ee0000"]},"legend":{"orient":"none","legendX":687,"legendY":267,"symbolType":"stroke","symbolSize":2304,"symbolStrokeWidth":1.6,"labelFont":"DejaVu Sans","labelFontSize":18,"labelOffset":-50,"labelBaseline":"line-bottom","labelColor":{"expr":"datum.label == 'H pol' ? '#00e000' : datum.label == 'V pol' ? '#ee0000' : '#000000'"},"rowPadding":15,"padding":0}},
 "strokeDash":{"field":"pol","type":"nominal","title":null,"scale":{"domain":["Total","H pol","V pol"],"range":[[1,0],[5,4],[14,4]]}}}},
{"data":{"name":"p1"},"transform":[{"filter":"datum.pol == 'Total' && datum.az == 0"},{"calculate":"pow(0.89,-datum.dB/2)","as":"x"},{"calculate":"0","as":"y"}],"mark":{"type":"point","shape":"circle","filled":true,"color":"#22cc22","size":45,"stroke":"#cc22cc","strokeWidth":1,"clip":true},"encoding":{"x":{"field":"x","type":"quantitative","scale":{"domain":[-1.071,6.8994],"nice":false,"zero":false},"axis":null},"y":{"field":"y","type":"quantitative","scale":{"domain":[-1.5917,1.1124],"nice":false,"zero":false},"axis":null}}}
]},
{"layer":[
{"data":{"name":"spokes"},"transform":[{"calculate":"cos(datum.deg*PI/180)","as":"x"},{"calculate":"sin(datum.deg*PI/180)","as":"y"},{"calculate":"0","as":"x0"},{"calculate":"0","as":"y0"}],"mark":{"type":"rule","color":"black","strokeWidth":1.5,"strokeDash":[1.5,7],"clip":true},"encoding":{"x":{"field":"x0","type":"quantitative","scale":{"domain":[-3.1302,4.8402],"nice":false,"zero":false},"axis":null},"y":{"field":"y0","type":"quantitative","scale":{"domain":[-1.5917,1.1124],"nice":false,"zero":false},"axis":null},"x2":{"field":"x"},"y2":{"field":"y"}}},
{"data":{"name":"rings"},"transform":[{"calculate":"pow(0.89,-datum.dB)","as":"s"},{"calculate":"0","as":"x"},{"calculate":"0","as":"y"}],"mark":{"type":"point","shape":"circle","filled":false,"stroke":"black","clip":true},"encoding":{"x":{"field":"x","type":"quantitative","scale":{"domain":[-3.1302,4.8402],"nice":false,"zero":false},"axis":null},"y":{"field":"y","type":"quantitative","scale":{"domain":[-1.5917,1.1124],"nice":false,"zero":false},"axis":null},"size":{"field":"s","type":"quantitative","scale":{"type":"linear","domain":[0,1],"range":[0,89727],"zero":true},"legend":null},"strokeDash":{"condition":{"test":"datum.line == 'dotted'","value":[1.5,3]},"value":[1,0]},"strokeWidth":{"condition":{"test":"datum.line == 'dotted'","value":1.5},"value":1.2}}},
{"data":{"name":"ringlabels"},"transform":[{"calculate":"pow(0.89,-datum.dB/2)","as":"y"}],"mark":{"type":"text","color":"white","stroke":"white","strokeWidth":6,"baseline":"middle","clip":true},"encoding":{"x":{"datum":0,"type":"quantitative","scale":{"domain":[-3.1302,4.8402],"nice":false,"zero":false},"axis":null},"y":{"field":"y","type":"quantitative","scale":{"domain":[-1.5917,1.1124],"nice":false,"zero":false},"axis":null},"text":{"field":"label","type":"nominal"}}},
{"data":{"name":"ringlabels"},"transform":[{"calculate":"pow(0.89,-datum.dB/2)","as":"y"}],"mark":{"type":"text","color":"black","baseline":"middle","clip":true},"encoding":{"x":{"datum":0,"type":"quantitative","scale":{"domain":[-3.1302,4.8402],"nice":false,"zero":false},"axis":null},"y":{"field":"y","type":"quantitative","scale":{"domain":[-1.5917,1.1124],"nice":false,"zero":false},"axis":null},"text":{"field":"label","type":"nominal"}}},
{"data":{"name":"s2"},"mark":{"type":"text","align":"center","baseline":"middle","clip":true},"encoding":{"x":{"datum":0.077,"type":"quantitative","scale":{"domain":[-3.1302,4.8402],"nice":false,"zero":false},"axis":null},"y":{"datum":-0.769,"type":"quantitative","scale":{"domain":[-1.5917,1.1124],"nice":false,"zero":false},"axis":null},"text":{"field":"freq","type":"nominal"}}},
{"data":{"name":"s2"},"mark":{"type":"text","align":"left","baseline":"middle","lineHeight":28.5,"clip":true},"encoding":{"x":{"datum":-0.663,"type":"quantitative","scale":{"domain":[-3.1302,4.8402],"nice":false,"zero":false},"axis":null},"y":{"datum":-1.148,"type":"quantitative","scale":{"domain":[-1.5917,1.1124],"nice":false,"zero":false},"axis":null},"text":{"field":"lab","type":"nominal"}}},
{"data":{"name":"s2"},"mark":{"type":"text","align":"left","baseline":"middle","lineHeight":28.5,"clip":true},"encoding":{"x":{"datum":0.337,"type":"quantitative","scale":{"domain":[-3.1302,4.8402],"nice":false,"zero":false},"axis":null},"y":{"datum":-1.148,"type":"quantitative","scale":{"domain":[-1.5917,1.1124],"nice":false,"zero":false},"axis":null},"text":{"field":"val","type":"nominal"}}},
{"data":{"name":"p2"},"transform":[{"calculate":"pow(0.89,-datum.dB/2)","as":"f"},{"calculate":"datum.f*cos(datum.az*PI/180)","as":"x"},{"calculate":"datum.f*sin(datum.az*PI/180)","as":"y"}],"mark":{"type":"line","strokeWidth":1.6,"clip":true},"encoding":{"x":{"field":"x","type":"quantitative","scale":{"domain":[-3.1302,4.8402],"nice":false,"zero":false},"axis":null},"y":{"field":"y","type":"quantitative","scale":{"domain":[-1.5917,1.1124],"nice":false,"zero":false},"axis":null},"order":{"field":"az","type":"quantitative"},
 "color":{"field":"pol","type":"nominal","title":null,"scale":{"domain":["Total","H pol","V pol"],"range":["#000000","#00e000","#ee0000"]}},
 "strokeDash":{"field":"pol","type":"nominal","title":null,"scale":{"domain":["Total","H pol","V pol"],"range":[[1,0],[5,4],[14,4]]}}}},
{"data":{"name":"p2"},"transform":[{"filter":"datum.pol == 'Total' && datum.az == 0"},{"calculate":"pow(0.89,-datum.dB/2)","as":"x"},{"calculate":"0","as":"y"}],"mark":{"type":"point","shape":"circle","filled":true,"color":"#22cc22","size":45,"stroke":"#cc22cc","strokeWidth":1,"clip":true},"encoding":{"x":{"field":"x","type":"quantitative","scale":{"domain":[-3.1302,4.8402],"nice":false,"zero":false},"axis":null},"y":{"field":"y","type":"quantitative","scale":{"domain":[-1.5917,1.1124],"nice":false,"zero":false},"axis":null}}}
]},
{"layer":[
{"data":{"name":"spokes"},"transform":[{"calculate":"cos(datum.deg*PI/180)","as":"x"},{"calculate":"sin(datum.deg*PI/180)","as":"y"},{"calculate":"0","as":"x0"},{"calculate":"0","as":"y0"}],"mark":{"type":"rule","color":"black","strokeWidth":1.5,"strokeDash":[1.5,7],"clip":true},"encoding":{"x":{"field":"x0","type":"quantitative","scale":{"domain":[-5.213,2.7574],"nice":false,"zero":false},"axis":null},"y":{"field":"y0","type":"quantitative","scale":{"domain":[-1.5917,1.1124],"nice":false,"zero":false},"axis":null},"x2":{"field":"x"},"y2":{"field":"y"}}},
{"data":{"name":"rings"},"transform":[{"calculate":"pow(0.89,-datum.dB)","as":"s"},{"calculate":"0","as":"x"},{"calculate":"0","as":"y"}],"mark":{"type":"point","shape":"circle","filled":false,"stroke":"black","clip":true},"encoding":{"x":{"field":"x","type":"quantitative","scale":{"domain":[-5.213,2.7574],"nice":false,"zero":false},"axis":null},"y":{"field":"y","type":"quantitative","scale":{"domain":[-1.5917,1.1124],"nice":false,"zero":false},"axis":null},"size":{"field":"s","type":"quantitative","scale":{"type":"linear","domain":[0,1],"range":[0,89727],"zero":true},"legend":null},"strokeDash":{"condition":{"test":"datum.line == 'dotted'","value":[1.5,3]},"value":[1,0]},"strokeWidth":{"condition":{"test":"datum.line == 'dotted'","value":1.5},"value":1.2}}},
{"data":{"name":"ringlabels"},"transform":[{"calculate":"pow(0.89,-datum.dB/2)","as":"y"}],"mark":{"type":"text","color":"white","stroke":"white","strokeWidth":6,"baseline":"middle","clip":true},"encoding":{"x":{"datum":0,"type":"quantitative","scale":{"domain":[-5.213,2.7574],"nice":false,"zero":false},"axis":null},"y":{"field":"y","type":"quantitative","scale":{"domain":[-1.5917,1.1124],"nice":false,"zero":false},"axis":null},"text":{"field":"label","type":"nominal"}}},
{"data":{"name":"ringlabels"},"transform":[{"calculate":"pow(0.89,-datum.dB/2)","as":"y"}],"mark":{"type":"text","color":"black","baseline":"middle","clip":true},"encoding":{"x":{"datum":0,"type":"quantitative","scale":{"domain":[-5.213,2.7574],"nice":false,"zero":false},"axis":null},"y":{"field":"y","type":"quantitative","scale":{"domain":[-1.5917,1.1124],"nice":false,"zero":false},"axis":null},"text":{"field":"label","type":"nominal"}}},
{"data":{"name":"s3"},"mark":{"type":"text","align":"center","baseline":"middle","clip":true},"encoding":{"x":{"datum":0.059,"type":"quantitative","scale":{"domain":[-5.213,2.7574],"nice":false,"zero":false},"axis":null},"y":{"datum":-0.846,"type":"quantitative","scale":{"domain":[-1.5917,1.1124],"nice":false,"zero":false},"axis":null},"text":{"field":"freq","type":"nominal"}}},
{"data":{"name":"s3"},"mark":{"type":"text","align":"left","baseline":"middle","lineHeight":28.5,"clip":true},"encoding":{"x":{"datum":-0.704,"type":"quantitative","scale":{"domain":[-5.213,2.7574],"nice":false,"zero":false},"axis":null},"y":{"datum":-1.166,"type":"quantitative","scale":{"domain":[-1.5917,1.1124],"nice":false,"zero":false},"axis":null},"text":{"field":"lab","type":"nominal"}}},
{"data":{"name":"s3"},"mark":{"type":"text","align":"left","baseline":"middle","lineHeight":28.5,"clip":true},"encoding":{"x":{"datum":0.29,"type":"quantitative","scale":{"domain":[-5.213,2.7574],"nice":false,"zero":false},"axis":null},"y":{"datum":-1.166,"type":"quantitative","scale":{"domain":[-1.5917,1.1124],"nice":false,"zero":false},"axis":null},"text":{"field":"val","type":"nominal"}}},
{"data":{"name":"p3"},"transform":[{"calculate":"pow(0.89,-datum.dB/2)","as":"f"},{"calculate":"datum.f*cos(datum.az*PI/180)","as":"x"},{"calculate":"datum.f*sin(datum.az*PI/180)","as":"y"}],"mark":{"type":"line","strokeWidth":1.6,"clip":true},"encoding":{"x":{"field":"x","type":"quantitative","scale":{"domain":[-5.213,2.7574],"nice":false,"zero":false},"axis":null},"y":{"field":"y","type":"quantitative","scale":{"domain":[-1.5917,1.1124],"nice":false,"zero":false},"axis":null},"order":{"field":"az","type":"quantitative"},
 "color":{"field":"pol","type":"nominal","title":null,"scale":{"domain":["Total","H pol","V pol"],"range":["#000000","#00e000","#ee0000"]}},
 "strokeDash":{"field":"pol","type":"nominal","title":null,"scale":{"domain":["Total","H pol","V pol"],"range":[[1,0],[5,4],[14,4]]}}}},
{"data":{"name":"p3"},"transform":[{"filter":"datum.pol == 'Total' && datum.az == 0"},{"calculate":"pow(0.89,-datum.dB/2)","as":"x"},{"calculate":"0","as":"y"}],"mark":{"type":"point","shape":"circle","filled":true,"color":"#22cc22","size":45,"stroke":"#cc22cc","strokeWidth":1,"clip":true},"encoding":{"x":{"field":"x","type":"quantitative","scale":{"domain":[-5.213,2.7574],"nice":false,"zero":false},"axis":null},"y":{"field":"y","type":"quantitative","scale":{"domain":[-1.5917,1.1124],"nice":false,"zero":false},"axis":null}}}
]},
{"layer":[
{"data":{"name":"spokes"},"transform":[{"calculate":"cos(datum.deg*PI/180)","as":"x"},{"calculate":"sin(datum.deg*PI/180)","as":"y"},{"calculate":"0","as":"x0"},{"calculate":"0","as":"y0"}],"mark":{"type":"rule","color":"black","strokeWidth":1.5,"strokeDash":[1.5,7],"clip":true},"encoding":{"x":{"field":"x0","type":"quantitative","scale":{"domain":[-7.3314,0.639],"nice":false,"zero":false},"axis":null},"y":{"field":"y0","type":"quantitative","scale":{"domain":[-1.5917,1.1124],"nice":false,"zero":false},"axis":null},"x2":{"field":"x"},"y2":{"field":"y"}}},
{"data":{"name":"rings"},"transform":[{"calculate":"pow(0.89,-datum.dB)","as":"s"},{"calculate":"0","as":"x"},{"calculate":"0","as":"y"}],"mark":{"type":"point","shape":"circle","filled":false,"stroke":"black","clip":true},"encoding":{"x":{"field":"x","type":"quantitative","scale":{"domain":[-7.3314,0.639],"nice":false,"zero":false},"axis":null},"y":{"field":"y","type":"quantitative","scale":{"domain":[-1.5917,1.1124],"nice":false,"zero":false},"axis":null},"size":{"field":"s","type":"quantitative","scale":{"type":"linear","domain":[0,1],"range":[0,89727],"zero":true},"legend":null},"strokeDash":{"condition":{"test":"datum.line == 'dotted'","value":[1.5,3]},"value":[1,0]},"strokeWidth":{"condition":{"test":"datum.line == 'dotted'","value":1.5},"value":1.2}}},
{"data":{"name":"ringlabels"},"transform":[{"calculate":"pow(0.89,-datum.dB/2)","as":"y"}],"mark":{"type":"text","color":"white","stroke":"white","strokeWidth":6,"baseline":"middle","clip":true},"encoding":{"x":{"datum":0,"type":"quantitative","scale":{"domain":[-7.3314,0.639],"nice":false,"zero":false},"axis":null},"y":{"field":"y","type":"quantitative","scale":{"domain":[-1.5917,1.1124],"nice":false,"zero":false},"axis":null},"text":{"field":"label","type":"nominal"}}},
{"data":{"name":"ringlabels"},"transform":[{"calculate":"pow(0.89,-datum.dB/2)","as":"y"}],"mark":{"type":"text","color":"black","baseline":"middle","clip":true},"encoding":{"x":{"datum":0,"type":"quantitative","scale":{"domain":[-7.3314,0.639],"nice":false,"zero":false},"axis":null},"y":{"field":"y","type":"quantitative","scale":{"domain":[-1.5917,1.1124],"nice":false,"zero":false},"axis":null},"text":{"field":"label","type":"nominal"}}},
{"data":{"name":"s4"},"mark":{"type":"text","align":"center","baseline":"middle","clip":true},"encoding":{"x":{"datum":0.036,"type":"quantitative","scale":{"domain":[-7.3314,0.639],"nice":false,"zero":false},"axis":null},"y":{"datum":-0.769,"type":"quantitative","scale":{"domain":[-1.5917,1.1124],"nice":false,"zero":false},"axis":null},"text":{"field":"freq","type":"nominal"}}},
{"data":{"name":"s4"},"mark":{"type":"text","align":"left","baseline":"middle","lineHeight":28,"clip":true},"encoding":{"x":{"datum":-0.704,"type":"quantitative","scale":{"domain":[-7.3314,0.639],"nice":false,"zero":false},"axis":null},"y":{"datum":-1.178,"type":"quantitative","scale":{"domain":[-1.5917,1.1124],"nice":false,"zero":false},"axis":null},"text":{"field":"lab","type":"nominal"}}},
{"data":{"name":"s4"},"mark":{"type":"text","align":"left","baseline":"middle","lineHeight":28,"clip":true},"encoding":{"x":{"datum":0.29,"type":"quantitative","scale":{"domain":[-7.3314,0.639],"nice":false,"zero":false},"axis":null},"y":{"datum":-1.178,"type":"quantitative","scale":{"domain":[-1.5917,1.1124],"nice":false,"zero":false},"axis":null},"text":{"field":"val","type":"nominal"}}},
{"data":{"name":"p4"},"transform":[{"calculate":"pow(0.89,-datum.dB/2)","as":"f"},{"calculate":"datum.f*cos(datum.az*PI/180)","as":"x"},{"calculate":"datum.f*sin(datum.az*PI/180)","as":"y"}],"mark":{"type":"line","strokeWidth":1.6,"clip":true},"encoding":{"x":{"field":"x","type":"quantitative","scale":{"domain":[-7.3314,0.639],"nice":false,"zero":false},"axis":null},"y":{"field":"y","type":"quantitative","scale":{"domain":[-1.5917,1.1124],"nice":false,"zero":false},"axis":null},"order":{"field":"az","type":"quantitative"},
 "color":{"field":"pol","type":"nominal","title":null,"scale":{"domain":["Total","H pol","V pol"],"range":["#000000","#00e000","#ee0000"]}},
 "strokeDash":{"field":"pol","type":"nominal","title":null,"scale":{"domain":["Total","H pol","V pol"],"range":[[1,0],[5,4],[14,4]]}}}}
]}
],
"resolve":{"scale":{"x":"independent","y":"independent"}}
}
